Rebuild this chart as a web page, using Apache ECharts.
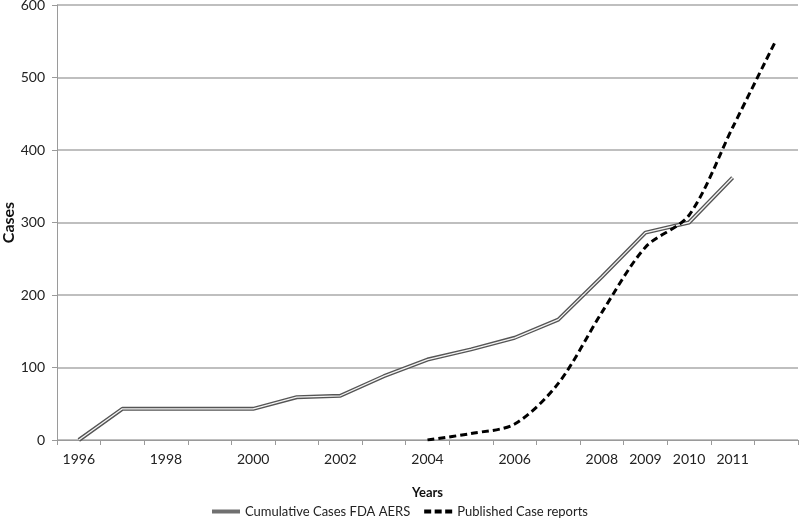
<!DOCTYPE html>
<html>
<head>
<meta charset="utf-8">
<script src="https://cdn.jsdelivr.net/npm/echarts@6/dist/echarts.min.js"></script>
<style>
html,body{margin:0;padding:0;background:#fff;}
#chart{width:800px;height:527px;}
</style>
</head>
<body>
<div id="chart"></div>
<script>
const years = ['1996','1997','1998','1999','2000','2001','2002','2003','2004','2005','2006','2007','2008','2009','2010','2011','2012'];
const shownYearLabels = ['1996','1998','2000','2002','2004','2006','2008','2009','2010','2011'];
const fdaAers = [0, 43, 43, 43, 43, 59, 61, 88, 111, 125, 141, 166, 225, 286, 300, 362, null];
const publishedReports = [null, null, null, null, null, null, null, null, 0, 9, 22, 78, 176, 266, 310, 431, 552];
const yTicks = [0, 100, 200, 300, 400, 500, 600];

const FONT = 'Lato';
const chart = echarts.init(document.getElementById('chart'));
chart.setOption({
  animation: false,
  backgroundColor: '#fff',
  textStyle: { fontFamily: FONT },
  grid: { left: 57, right: 2, top: 5, bottom: 87, containLabel: false, outerBoundsMode: 'none' },
  legend: {
    bottom: 4,
    left: 'center',
    itemWidth: 28,
    itemHeight: 4,
    itemGap: 14,
    textStyle: { fontFamily: FONT, fontSize: 13, color: '#222' },
    data: [
      { name: 'Cumulative Cases FDA AERS', icon: 'path://M0,0H28V4H0Z', itemStyle: { color: '#707070' } },
      { name: 'Published Case reports', icon: 'path://M0,0H7V4H0Z M10.5,0H17.5V4H10.5Z M21,0H28V4H21Z', itemStyle: { color: '#000' } }
    ]
  },
  xAxis: {
    type: 'category',
    data: years,
    boundaryGap: true,
    name: 'Years',
    nameLocation: 'middle',
    nameGap: 46,
    nameMoveOverlap: false,
    nameTextStyle: { fontFamily: FONT, fontWeight: 'bold', fontSize: 13, color: '#111' },
    axisLine: { lineStyle: { color: '#9a9a9a', width: 1 } },
    axisTick: { show: true, alignWithLabel: false, interval: 0, length: 5, lineStyle: { color: '#9a9a9a' } },
    axisLabel: {
      interval: 0,
      margin: 12,
      fontSize: 14,
      color: '#222',
      fontFamily: FONT,
      formatter: v => shownYearLabels.includes(v) ? v : ''
    },
    splitLine: { show: false }
  },
  yAxis: {
    type: 'value',
    min: yTicks[0],
    max: yTicks[yTicks.length - 1],
    interval: 100,
    name: 'Cases',
    nameLocation: 'middle',
    nameGap: 40,
    nameMoveOverlap: false,
    nameRotate: 90,
    nameTextStyle: { fontFamily: FONT, fontWeight: 'bold', fontSize: 16, color: '#111' },
    axisLine: { show: true, lineStyle: { color: '#9a9a9a', width: 1 } },
    axisTick: { show: true, length: 5, lineStyle: { color: '#9a9a9a' } },
    axisLabel: { fontSize: 14, color: '#222', margin: 12, fontFamily: FONT },
    splitLine: { show: true, lineStyle: { color: '#aaaaaa', width: 1.5 } }
  },
  series: [
    {
      name: 'Cumulative Cases FDA AERS',
      type: 'line',
      data: fdaAers,
      symbol: 'none',
      connectNulls: false,
      lineStyle: { color: '#555', width: 4 },
      itemStyle: { color: '#707070' },
      z: 2
    },
    {
      name: 'FDA inner',
      type: 'line',
      data: fdaAers,
      symbol: 'none',
      lineStyle: { color: '#f4f4f4', width: 1.3 },
      itemStyle: { color: '#f4f4f4' },
      silent: true,
      z: 3
    },
    {
      name: 'Published Case reports',
      type: 'line',
      data: publishedReports,
      symbol: 'none',
      smooth: 0.3,
      lineStyle: { color: '#000', width: 3, type: [7, 4] },
      itemStyle: { color: '#000' },
      z: 4
    }
  ]
});
</script>
</body>
</html>
